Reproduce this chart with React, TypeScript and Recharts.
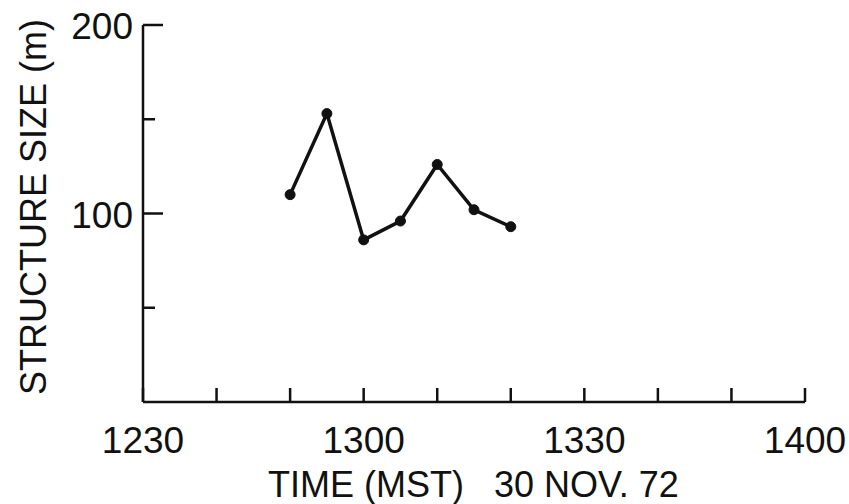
import { LineChart, Line, XAxis, YAxis } from 'recharts';

// clock times (MST) of the measurements, 30 Nov 1972
const times = ['1250', '1255', '1300', '1305', '1310', '1315', '1320'];
// structure size in metres
const sizes = [110, 153, 86, 96, 126, 102, 93];

const xTicks = [0, 10, 20, 30, 40, 50, 60, 70, 80, 90];
const xTickLabels: Record<number, string> = { 0: '1230', 30: '1300', 60: '1330', 90: '1400' };
const yTicks = [0, 50, 100, 150, 200];
const yTickLabels: Record<number, string> = { 100: '100', 200: '200' };

// minutes after 12:30
const toMinutes = (t: string) => (parseInt(t.slice(0, 2)) - 12) * 60 + parseInt(t.slice(2)) - 30;

const data = times.map((t, i) => ({ t: toMinutes(t), size: sizes[i] }));

const FONT = '"Liberation Sans", Arial, sans-serif';

const XTick = (props: any) => {
  const { x, y, payload } = props;
  const label = xTickLabels[payload.value];
  return (
    <g>
      <line x1={x} y1={y} x2={x} y2={y - 14} stroke="#111" strokeWidth={2.5} />
      {label && (
        <text x={x} y={y + 51} textAnchor="middle" fontSize={37} fill="#111" fontFamily={FONT}>
          {label}
        </text>
      )}
    </g>
  );
};

const YTick = (props: any) => {
  const { x, y, payload } = props;
  const v = payload.value;
  if (v === 0) return null;
  const major = v % 100 === 0;
  const label = yTickLabels[v];
  return (
    <g>
      <line x1={x} y1={y} x2={x + (major ? 20 : 12)} y2={y} stroke="#111" strokeWidth={2.5} />
      {label && (
        <text x={x - 10} y={y + 14} textAnchor="end" fontSize={37} fill="#111" fontFamily={FONT}>
          {label}
        </text>
      )}
    </g>
  );
};

export default function App() {
  return (
    <div style={{ position: 'absolute', left: 0, top: 0, background: '#fff' }}>
      <LineChart width={849} height={504} data={data} margin={{ top: 25, right: 44, bottom: 0, left: 0 }}>
        <XAxis
          dataKey="t"
          type="number"
          domain={[0, 90]}
          ticks={xTicks}
          interval={0}
          tickLine={false}
          tickSize={0}
          tickMargin={0}
          tick={<XTick />}
          axisLine={{ stroke: '#111', strokeWidth: 2.5 }}
          height={102}
        />
        <YAxis
          type="number"
          domain={[0, 200]}
          ticks={yTicks}
          interval={0}
          tickLine={false}
          tickSize={0}
          tickMargin={0}
          tick={<YTick />}
          axisLine={{ stroke: '#111', strokeWidth: 2.5 }}
          width={143}
        />
        <Line
          dataKey="size"
          stroke="#111"
          strokeWidth={3.5}
          dot={{ r: 5, fill: '#111', stroke: '#111', strokeWidth: 1 }}
          isAnimationActive={false}
        />
        <text x={268} y={497} fontSize={36} fill="#111" fontFamily={FONT} style={{ whiteSpace: 'pre' }}>
          {'TIME (MST)   30 NOV. 72'}
        </text>
        <text
          x={46}
          y={207}
          transform="rotate(-90 46 207)"
          textAnchor="middle"
          fontSize={36}
          fill="#111"
          fontFamily={FONT}
        >
          STRUCTURE SIZE (m)
        </text>
      </LineChart>
    </div>
  );
}
